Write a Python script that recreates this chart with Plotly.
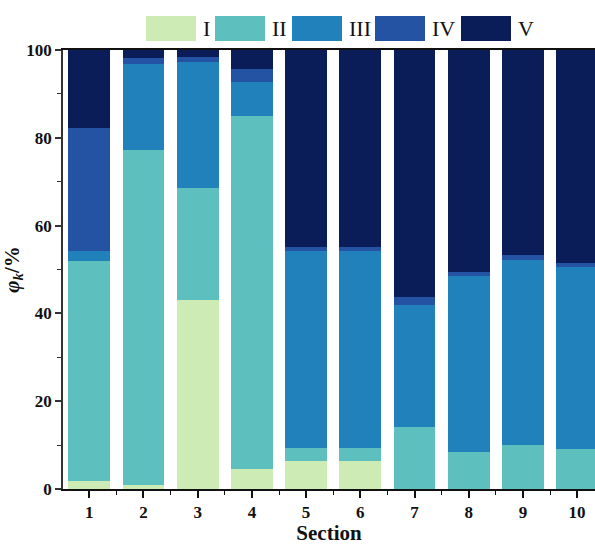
import plotly.graph_objects as go

sections = [1, 2, 3, 4, 5, 6, 7, 8, 9, 10]
series_names = ["I", "II", "III", "IV", "V"]
colors = ["#cdebb4", "#5ebfbf", "#2181ba", "#2553a3", "#0a1d58"]

v_I = [1.9, 1.0, 43.1, 4.5, 6.4, 6.4, 0.0, 0.0, 0.0, 0.0]
v_II = [50.1, 76.3, 25.5, 80.4, 3.0, 2.9, 14.2, 8.5, 10.1, 9.0]
v_III = [2.2, 19.4, 28.6, 7.9, 44.8, 44.9, 27.8, 40.0, 42.1, 41.5]
v_IV = [28.1, 1.5, 1.2, 2.9, 1.0, 1.0, 1.8, 1.0, 1.0, 0.9]
v_V = [17.7, 1.8, 1.6, 4.3, 44.8, 44.8, 56.2, 50.5, 46.8, 48.6]
series_values = [v_I, v_II, v_III, v_IV, v_V]

serif = "Liberation Serif, Times New Roman, serif"

fig = go.Figure()
for name, vals, col in zip(series_names, series_values, colors):
    fig.add_trace(go.Bar(
        x=sections, y=vals, name=name, width=0.77,
        marker=dict(color=col, line=dict(width=0)),
        showlegend=False,
    ))

# custom legend with large swatches (paper coords)
W, H = 595, 545
ml, mr, mt, mb = 63, 0, 50, 56
pw, ph = W - ml - mr, H - mt - mb
def px_to_paper_x(px):
    return (px - ml) / pw
def px_to_paper_y(py):
    return (H - mb - py) / ph

swatch_left = [146, 215, 292, 375, 461]
swatch_w = 50
for name, col, sx in zip(series_names, colors, swatch_left):
    fig.add_shape(type="rect", xref="paper", yref="paper",
                  x0=px_to_paper_x(sx), x1=px_to_paper_x(sx + swatch_w),
                  y0=px_to_paper_y(41), y1=px_to_paper_y(16),
                  fillcolor=col, line=dict(width=0))
    fig.add_annotation(xref="paper", yref="paper",
                       x=px_to_paper_x(sx + swatch_w + 5), y=px_to_paper_y(29),
                       xanchor="left", yanchor="middle", showarrow=False,
                       text=name, font=dict(family=serif, size=22, color="#111"))

fig.update_layout(
    width=W, height=H,
    margin=dict(l=ml, r=mr, t=mt, b=mb, pad=0, autoexpand=False),
    paper_bgcolor="white", plot_bgcolor="white",
    barmode="stack", bargap=0,
    font=dict(family=serif, color="#111"),
)
fig.update_xaxes(
    range=[0.515, 10.33], automargin=False,
    tickmode="array", tickvals=sections, ticktext=[str(s) for s in sections],
    ticks="outside", ticklen=7, tickwidth=1.5, tickcolor="#111",
    minor=dict(tickmode="array", tickvals=[s + 0.5 for s in sections[:-1]],
               ticks="outside", ticklen=4, tickwidth=1.2, tickcolor="#111"),
    showline=True, linecolor="#111", linewidth=1.5, mirror=True,
    showgrid=False, zeroline=False,
    tickfont=dict(family=serif, size=17, color="#111", weight="bold"),
    title=dict(text="Section", font=dict(family=serif, size=21, color="#111", weight="bold"), standoff=5),
)
fig.update_yaxes(
    range=[0, 100], automargin=False,
    tickmode="array", tickvals=[0, 20, 40, 60, 80, 100],
    ticks="outside", ticklen=6, tickwidth=1.5, tickcolor="#333",
    minor=dict(tickmode="array", tickvals=[10, 30, 50, 70, 90],
               ticks="outside", ticklen=4, tickwidth=1.2, tickcolor="#333"),
    showline=True, linecolor="#333", linewidth=1.5,
    showgrid=False, zeroline=False,
    tickfont=dict(family=serif, size=17, color="#111", weight="bold"),
    title=dict(text="<i>φ</i><sub><i>k</i></sub>/%", font=dict(family=serif, size=21, color="#111", weight="bold"), standoff=1),
)

fig.write_html("out.html", config={"displayModeBar": False},
               post_script="document.body.style.margin='0';document.body.style.overflow='hidden';")
